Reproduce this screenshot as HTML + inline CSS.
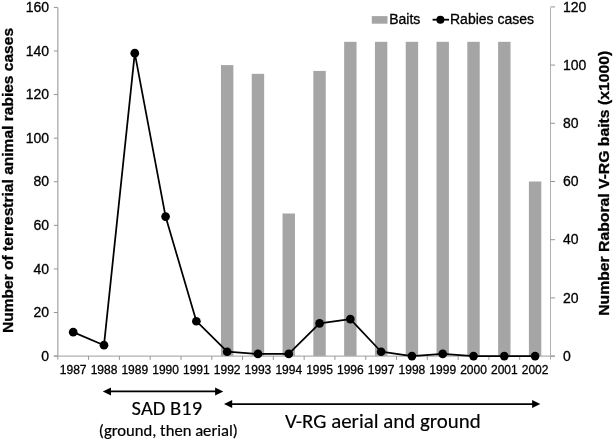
<!DOCTYPE html>
<html><head><meta charset="utf-8"><style>
html,body{margin:0;padding:0;background:#fff;}
body{width:614px;height:440px;overflow:hidden;}
svg{display:block;}
text{fill:#000;stroke:#000;stroke-width:0.3px;}
.tl{font-family:"Liberation Sans",Arial,sans-serif;font-size:14px;}
.yr{font-family:"Liberation Sans",Arial,sans-serif;font-size:12px;}
.lg{font-family:"Liberation Sans",Arial,sans-serif;font-size:14px;}
.at{font-family:"Liberation Sans",Arial,sans-serif;font-size:15px;font-weight:bold;}
.an{font-family:Carlito,"Liberation Sans",sans-serif;font-size:20px;stroke-width:0.15px;}
.an2{font-family:Carlito,"Liberation Sans",sans-serif;font-size:16px;stroke-width:0.2px;}
</style></head><body>
<svg width="614" height="440" viewBox="0 0 614 440">
<rect x="220.97" y="65.10" width="12.4" height="291.00" fill="#a5a5a5"/>
<rect x="251.76" y="73.83" width="12.4" height="282.27" fill="#a5a5a5"/>
<rect x="282.55" y="213.51" width="12.4" height="142.59" fill="#a5a5a5"/>
<rect x="313.35" y="70.92" width="12.4" height="285.18" fill="#a5a5a5"/>
<rect x="344.14" y="41.82" width="12.4" height="314.28" fill="#a5a5a5"/>
<rect x="374.93" y="41.82" width="12.4" height="314.28" fill="#a5a5a5"/>
<rect x="405.73" y="41.82" width="12.4" height="314.28" fill="#a5a5a5"/>
<rect x="436.52" y="41.82" width="12.4" height="314.28" fill="#a5a5a5"/>
<rect x="467.32" y="41.82" width="12.4" height="314.28" fill="#a5a5a5"/>
<rect x="498.11" y="41.82" width="12.4" height="314.28" fill="#a5a5a5"/>
<rect x="528.90" y="181.50" width="12.4" height="174.60" fill="#a5a5a5"/>
<line x1="57.8" y1="7.4" x2="57.8" y2="359.6" stroke="#b0b0b0" stroke-width="1.4"/>
<line x1="550.5" y1="7.4" x2="550.5" y2="359.6" stroke="#b0b0b0" stroke-width="1"/>
<line x1="53.8" y1="356.1" x2="555.0" y2="356.1" stroke="#b0b0b0" stroke-width="1.4"/>
<line x1="53.8" y1="356.10" x2="57.8" y2="356.10" stroke="#959595" stroke-width="1"/>
<text x="49" y="360.70" text-anchor="end" class="tl">0</text>
<line x1="53.8" y1="312.51" x2="57.8" y2="312.51" stroke="#959595" stroke-width="1"/>
<text x="49" y="317.11" text-anchor="end" class="tl">20</text>
<line x1="53.8" y1="268.93" x2="57.8" y2="268.93" stroke="#959595" stroke-width="1"/>
<text x="49" y="273.53" text-anchor="end" class="tl">40</text>
<line x1="53.8" y1="225.34" x2="57.8" y2="225.34" stroke="#959595" stroke-width="1"/>
<text x="49" y="229.94" text-anchor="end" class="tl">60</text>
<line x1="53.8" y1="181.75" x2="57.8" y2="181.75" stroke="#959595" stroke-width="1"/>
<text x="49" y="186.35" text-anchor="end" class="tl">80</text>
<line x1="53.8" y1="138.16" x2="57.8" y2="138.16" stroke="#959595" stroke-width="1"/>
<text x="49" y="142.76" text-anchor="end" class="tl">100</text>
<line x1="53.8" y1="94.57" x2="57.8" y2="94.57" stroke="#959595" stroke-width="1"/>
<text x="49" y="99.17" text-anchor="end" class="tl">120</text>
<line x1="53.8" y1="50.99" x2="57.8" y2="50.99" stroke="#959595" stroke-width="1"/>
<text x="49" y="55.59" text-anchor="end" class="tl">140</text>
<line x1="53.8" y1="7.40" x2="57.8" y2="7.40" stroke="#959595" stroke-width="1"/>
<text x="49" y="12.00" text-anchor="end" class="tl">160</text>
<line x1="550.5" y1="356.10" x2="555.0" y2="356.10" stroke="#959595" stroke-width="1"/>
<text x="563" y="360.70" class="tl">0</text>
<line x1="550.5" y1="297.90" x2="555.0" y2="297.90" stroke="#959595" stroke-width="1"/>
<text x="563" y="302.50" class="tl">20</text>
<line x1="550.5" y1="239.70" x2="555.0" y2="239.70" stroke="#959595" stroke-width="1"/>
<text x="563" y="244.30" class="tl">40</text>
<line x1="550.5" y1="181.50" x2="555.0" y2="181.50" stroke="#959595" stroke-width="1"/>
<text x="563" y="186.10" class="tl">60</text>
<line x1="550.5" y1="123.30" x2="555.0" y2="123.30" stroke="#959595" stroke-width="1"/>
<text x="563" y="127.90" class="tl">80</text>
<line x1="550.5" y1="65.10" x2="555.0" y2="65.10" stroke="#959595" stroke-width="1"/>
<text x="563" y="69.70" class="tl">100</text>
<line x1="550.5" y1="6.90" x2="555.0" y2="6.90" stroke="#959595" stroke-width="1"/>
<text x="563" y="11.50" class="tl">120</text>
<line x1="88.59" y1="356.1" x2="88.59" y2="359.90000000000003" stroke="#959595" stroke-width="1"/>
<line x1="119.39" y1="356.1" x2="119.39" y2="359.90000000000003" stroke="#959595" stroke-width="1"/>
<line x1="150.18" y1="356.1" x2="150.18" y2="359.90000000000003" stroke="#959595" stroke-width="1"/>
<line x1="180.97" y1="356.1" x2="180.97" y2="359.90000000000003" stroke="#959595" stroke-width="1"/>
<line x1="211.77" y1="356.1" x2="211.77" y2="359.90000000000003" stroke="#959595" stroke-width="1"/>
<line x1="242.56" y1="356.1" x2="242.56" y2="359.90000000000003" stroke="#959595" stroke-width="1"/>
<line x1="273.36" y1="356.1" x2="273.36" y2="359.90000000000003" stroke="#959595" stroke-width="1"/>
<line x1="304.15" y1="356.1" x2="304.15" y2="359.90000000000003" stroke="#959595" stroke-width="1"/>
<line x1="334.94" y1="356.1" x2="334.94" y2="359.90000000000003" stroke="#959595" stroke-width="1"/>
<line x1="365.74" y1="356.1" x2="365.74" y2="359.90000000000003" stroke="#959595" stroke-width="1"/>
<line x1="396.53" y1="356.1" x2="396.53" y2="359.90000000000003" stroke="#959595" stroke-width="1"/>
<line x1="427.32" y1="356.1" x2="427.32" y2="359.90000000000003" stroke="#959595" stroke-width="1"/>
<line x1="458.12" y1="356.1" x2="458.12" y2="359.90000000000003" stroke="#959595" stroke-width="1"/>
<line x1="488.91" y1="356.1" x2="488.91" y2="359.90000000000003" stroke="#959595" stroke-width="1"/>
<line x1="519.71" y1="356.1" x2="519.71" y2="359.90000000000003" stroke="#959595" stroke-width="1"/>
<text x="73.20" y="374.2" text-anchor="middle" class="yr">1987</text>
<text x="103.99" y="374.2" text-anchor="middle" class="yr">1988</text>
<text x="134.78" y="374.2" text-anchor="middle" class="yr">1989</text>
<text x="165.58" y="374.2" text-anchor="middle" class="yr">1990</text>
<text x="196.37" y="374.2" text-anchor="middle" class="yr">1991</text>
<text x="227.17" y="374.2" text-anchor="middle" class="yr">1992</text>
<text x="257.96" y="374.2" text-anchor="middle" class="yr">1993</text>
<text x="288.75" y="374.2" text-anchor="middle" class="yr">1994</text>
<text x="319.55" y="374.2" text-anchor="middle" class="yr">1995</text>
<text x="350.34" y="374.2" text-anchor="middle" class="yr">1996</text>
<text x="381.13" y="374.2" text-anchor="middle" class="yr">1997</text>
<text x="411.93" y="374.2" text-anchor="middle" class="yr">1998</text>
<text x="442.72" y="374.2" text-anchor="middle" class="yr">1999</text>
<text x="473.52" y="374.2" text-anchor="middle" class="yr">2000</text>
<text x="504.31" y="374.2" text-anchor="middle" class="yr">2001</text>
<text x="535.10" y="374.2" text-anchor="middle" class="yr">2002</text>
<polyline points="73.20,332.13 103.99,345.20 134.78,53.17 165.58,216.62 196.37,321.23 227.17,351.74 257.96,353.92 288.75,353.92 319.55,323.41 350.34,319.05 381.13,351.74 411.93,356.10 442.72,353.92 473.52,356.10 504.31,356.10 535.10,356.10" fill="none" stroke="#000" stroke-width="1.75" stroke-linejoin="round"/>
<circle cx="73.20" cy="332.13" r="4.35" fill="#000"/>
<circle cx="103.99" cy="345.20" r="4.35" fill="#000"/>
<circle cx="134.78" cy="53.17" r="4.35" fill="#000"/>
<circle cx="165.58" cy="216.62" r="4.35" fill="#000"/>
<circle cx="196.37" cy="321.23" r="4.35" fill="#000"/>
<circle cx="227.17" cy="351.74" r="4.35" fill="#000"/>
<circle cx="257.96" cy="353.92" r="4.35" fill="#000"/>
<circle cx="288.75" cy="353.92" r="4.35" fill="#000"/>
<circle cx="319.55" cy="323.41" r="4.35" fill="#000"/>
<circle cx="350.34" cy="319.05" r="4.35" fill="#000"/>
<circle cx="381.13" cy="351.74" r="4.35" fill="#000"/>
<circle cx="411.93" cy="356.10" r="4.35" fill="#000"/>
<circle cx="442.72" cy="353.92" r="4.35" fill="#000"/>
<circle cx="473.52" cy="356.10" r="4.35" fill="#000"/>
<circle cx="504.31" cy="356.10" r="4.35" fill="#000"/>
<circle cx="535.10" cy="356.10" r="4.35" fill="#000"/>
<rect x="371.8" y="16.1" width="15.7" height="7.6" fill="#a5a5a5"/>
<text x="389.2" y="24.2" class="lg">Baits</text>
<line x1="432.6" y1="19.7" x2="449" y2="19.7" stroke="#000" stroke-width="1.8"/>
<circle cx="440.4" cy="19.7" r="4.0" fill="#000"/>
<text x="450" y="24.3" class="lg">Rabies cases</text>
<text transform="translate(12.6,180.45) rotate(-90)" text-anchor="middle" class="at" textLength="305" lengthAdjust="spacingAndGlyphs">Number of terrestrial animal rabies cases</text>
<text transform="translate(608.8,183.3) rotate(-90)" text-anchor="middle" class="at" textLength="265" lengthAdjust="spacingAndGlyphs">Number Raboral V-RG baits (x1000)</text>
<line x1="108.8" y1="391.4" x2="217.3" y2="391.4" stroke="#000" stroke-width="1.8"/>
<polygon points="102.8,391.4 111.0,387.4 111.0,395.4" fill="#000"/>
<polygon points="223.3,391.4 215.10000000000002,387.4 215.10000000000002,395.4" fill="#000"/>
<line x1="230.0" y1="404.1" x2="534.3" y2="404.1" stroke="#000" stroke-width="1.8"/>
<polygon points="224.0,404.1 232.2,400.1 232.2,408.1" fill="#000"/>
<polygon points="540.3,404.1 532.0999999999999,400.1 532.0999999999999,408.1" fill="#000"/>
<text x="131.6" y="414.6" class="an" textLength="70.5" lengthAdjust="spacingAndGlyphs">SAD B19</text>
<text x="98.8" y="435.6" class="an2" textLength="139" lengthAdjust="spacingAndGlyphs">(ground, then aerial)</text>
<text x="284.9" y="427.9" class="an" textLength="195.8" lengthAdjust="spacingAndGlyphs">V-RG aerial and ground</text>
</svg>
</body></html>
